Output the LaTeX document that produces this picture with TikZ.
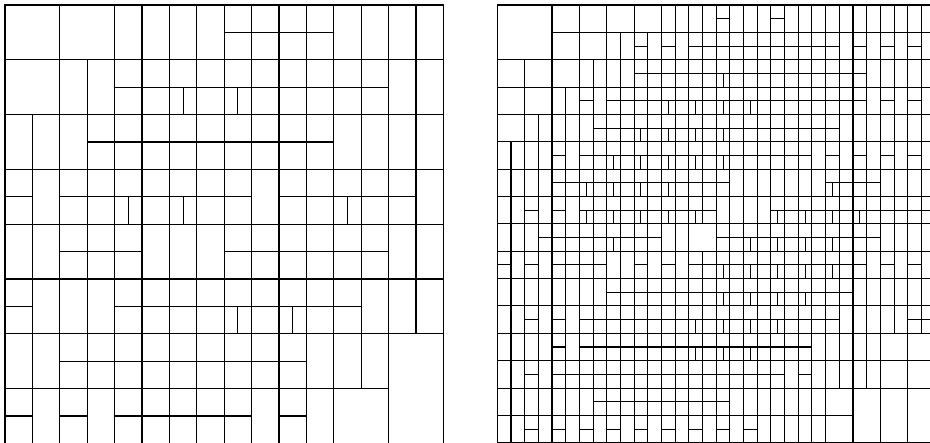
\documentclass[tikz,border=0pt]{standalone}
\newcommand\mvr[3]{\foreach \xx in {#2,...,#3} \draw[ml] (\xx,#1) -- (\xx,#1+1);}
\newcommand\mvl[2]{\foreach \xx in {#2} \draw[ml] (\xx,#1) -- (\xx,#1+1);}
\begin{document}
\begin{tikzpicture}[x=1pt,y=1pt, ml/.style={line width=1.05pt, line cap=rect, black}]
\useasboundingbox (0,0) rectangle (930,443);
\clip (0,0) rectangle (930,443);
% ---------------- left panel ----------------
\begin{scope}[shift={(5,438)}, x=27.4pt, y=-27.4pt]
\draw[ml] (0,0) rectangle (16,16);
\mvl{0}{2}\mvr{0}{4}{15}
\mvl{1}{2}\mvr{1}{4}{15}
\mvr{2}{2}{15}
\mvr{3}{2}{15}\mvl{3}{6.5,8.5}
\foreach \r in {4,5,6,7,8,9,10,11} {\mvr{\r}{1}{15}}
\mvl{7}{4.5,6.5,12.5}
\mvl{11}{8.5,10.5}
\foreach \r in {12,13} {\mvr{\r}{1}{14}}
\foreach \r in {14,15} {\mvr{\r}{1}{12}\mvl{\r}{14}}
\foreach \y/\a/\b in {1/8/12, 2/0/16, 3/4/14, 4/0/16, 5/3/12, 6/0/16, 7/0/1, 7/2/9, 7/10/15, 8/0/16, 9/2/5, 9/8/14, 10/0/16, 11/0/1, 11/4/13, 12/0/16, 13/2/11, 14/0/14, 15/0/1, 15/2/3, 15/4/9, 15/10/11}
  {\draw[ml] (\a,\y) -- (\b,\y);}
\end{scope}
% ---------------- right panel ----------------
\begin{scope}[shift={(497.3,438)}, x=13.68pt, y=-13.68pt]
\draw[ml] (0,0) rectangle (32,32);
\foreach \r in {0,1} {\mvl{\r}{4,6,8,10,12,13,14,15}\mvr{\r}{16}{31}}
\foreach \r in {2,3} {\mvl{\r}{4,6}\mvr{\r}{8}{31}}
\foreach \r in {4,5} {\mvl{\r}{2,4}\mvr{\r}{6}{31}}
\mvl{5}{16.5}
\foreach \r in {6,7} {\mvl{\r}{2}\mvr{\r}{4}{31}}
\mvl{7}{12.5,14.5,16.5,18.5}
\foreach \r in {8,9} {\mvr{\r}{2}{31}}
\mvl{9}{10.5,12.5,14.5,16.5}
\foreach \r in {10,...,15} {\mvr{\r}{1}{31}}
\mvl{11}{8.5,10.5,12.5,14.5,16.5}
\mvl{13}{6.5,8.5,10.5,12.5,24.5}
\mvl{15}{6.5,8.5,10.5,12.5,14.5,20.5,22.5,24.5,26.5}
\foreach \r in {16,17} {\mvr{\r}{1}{14}\mvr{\r}{16}{31}}
\mvl{17}{8.5,18.5,20.5,22.5,24.5}
\foreach \r in {18,...,23} {\mvr{\r}{1}{31}}
\mvl{19}{16.5,18.5,20.5,22.5,24.5}
\mvl{21}{16.5,18.5,20.5,22.5}
\mvl{23}{14.5,16.5,18.5,20.5}
\foreach \r in {24,...,27} {\mvr{\r}{1}{28}\mvl{\r}{30}}
\mvl{25}{14.5,16.5,18.5}
\foreach \r in {28,...,31} {\mvr{\r}{1}{24}\mvl{\r}{26,28,30}}
\foreach \y/\a/\b in {1/16/17, 1/20/21, 2/4/32, 3/10/11, 3/12/13, 3/14/25, 3/26/27, 3/28/29, 3/30/31, 4/0/32, 5/10/27, 6/0/32, 7/6/7, 7/8/27, 7/28/29, 7/30/31, 8/0/32, 9/7/25, 10/0/32, 11/4/5, 11/6/23, 11/24/25, 11/26/27, 11/28/29, 11/30/31, 12/0/32, 13/4/17, 13/24/28, 14/0/32, 15/2/3, 15/4/5, 15/6/16, 15/20/32, 16/0/32, 17/3/12, 17/16/28, 18/0/32, 19/0/1, 19/2/3, 19/4/8, 19/10/11, 19/12/13, 19/14/27, 19/28/29, 19/30/31, 20/0/32, 21/8/26, 22/0/32, 23/2/3, 23/4/5, 23/6/25, 23/30/32, 24/0/32, 25/4/5, 25/6/23, 26/0/32, 27/2/3, 27/4/21, 27/22/23, 28/0/32, 29/7/17, 30/0/26, 31/2/3, 31/4/5, 31/6/7, 31/8/9, 31/10/11, 31/12/13, 31/14/15, 31/16/17, 31/18/19}
  {\draw[ml] (\a,\y) -- (\b,\y);}
\end{scope}
\end{tikzpicture}
\end{document}
